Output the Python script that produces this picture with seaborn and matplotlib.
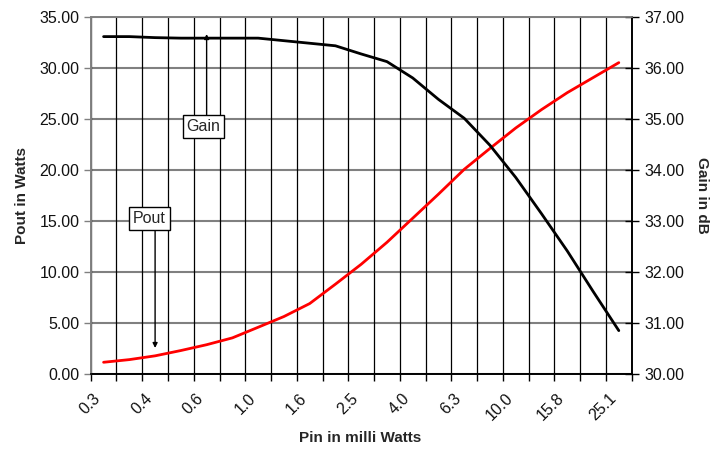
import numpy as np
import pandas as pd
import matplotlib
matplotlib.use("Agg")
import matplotlib.pyplot as plt
import seaborn as sns

# Data
pin_mw = [0.251, 0.316, 0.398, 0.501, 0.631, 0.794, 1.0, 1.259, 1.585, 1.995, 2.512,
          3.162, 3.981, 5.012, 6.310, 7.943, 10.0, 12.59, 15.85, 19.95, 25.12]
pout_w = [1.15, 1.41, 1.78, 2.30, 2.87, 3.54, 4.58, 5.63, 6.90, 8.80, 10.75,
          12.90, 15.26, 17.62, 20.05, 22.10, 24.10, 25.90, 27.56, 29.03, 30.50]
gain_db = [36.61, 36.61, 36.59, 36.58, 36.58, 36.58, 36.58, 36.53, 36.48, 36.43, 36.27,
           36.12, 35.80, 35.38, 35.01, 34.48, 33.85, 33.14, 32.41, 31.62, 30.85]
tick_labels = [f"{v:.1f}" for v in pin_mw]

df = pd.DataFrame({"idx": np.arange(len(pin_mw)), "pout": pout_w, "gain": gain_db})

sns.set_theme(style="white")
plt.rcParams["font.family"] = ["Liberation Sans", "DejaVu Sans"]

fig = plt.figure(figsize=(7.25, 4.55), dpi=100)
ax = fig.add_axes([0.1251, 0.178, 0.8713 - 0.1251, 0.9633 - 0.178])
ax2 = ax.twinx()

n = len(pin_mw)
ax.set_xlim(-0.5, n - 0.5)
ax.set_ylim(0, 35)
ax2.set_ylim(30, 37)

# gridlines
for yv in np.arange(0, 36, 5):
    ax.axhline(yv, color="#808080", lw=1.5, zorder=1)
for xv in np.arange(-0.5, n, 1.0):
    ax.axvline(xv, color="black", lw=0.9, zorder=1)

sns.lineplot(data=df, x="idx", y="pout", ax=ax, color="#FF0000", lw=2, zorder=3)
sns.lineplot(data=df, x="idx", y="gain", ax=ax2, color="black", lw=2, zorder=3)

TS = 11.5

# ticks
ax.set_xticks(np.arange(-0.5, n, 1.0))
ax.set_xticklabels([])
ax.set_xticks(np.arange(0, n, 2), minor=True)
ax.set_xticklabels(tick_labels[::2], minor=True, rotation=45, ha="right", va="top",
                   rotation_mode="default")
ax.tick_params(axis="x", which="major", direction="out", length=5, width=1, color="black", bottom=True)
ax.tick_params(axis="x", which="minor", length=0, pad=12, labelsize=TS, labelcolor="#111111")

ax.set_yticks(np.arange(0, 36, 5))
ax.set_yticklabels([f"{v:.2f}" for v in np.arange(0, 36, 5)])
ax.tick_params(axis="y", direction="out", length=5, width=1, color="#808080", left=True,
               labelsize=TS, labelcolor="#111111", pad=3)

ax2.set_yticks(np.arange(30, 38, 1))
ax2.set_yticklabels([f"{v:.2f}" for v in np.arange(30, 38, 1)])
ax2.tick_params(axis="y", direction="inout", length=10, width=1, color="black", right=True,
                labelsize=TS, labelcolor="#111111", pad=4)

ax.set_xlabel("Pin in milli Watts", fontsize=11, fontweight="bold")
ax.set_ylabel("Pout in Watts", fontsize=11, fontweight="bold")
ax2.set_ylabel("Gain in dB", fontsize=11, fontweight="bold", rotation=270)
ax.xaxis.label.set_va("center")
ax.yaxis.label.set_va("center")
ax2.yaxis.label.set_va("center")
ax.xaxis.set_label_coords(0.498, -0.179)
ax.yaxis.set_label_coords(-0.127, 0.5)
ax2.yaxis.set_label_coords(1.130, 0.5)

for a in (ax, ax2):
    a.spines["left"].set_color("#808080")
    a.spines["top"].set_color("#808080")
    a.spines["bottom"].set_color("black")
    a.spines["right"].set_color("black")
    for s in a.spines.values():
        s.set_linewidth(1.2)
ax.set_facecolor("white")

# annotations
ax.annotate("", xy=(4.0, 33.3), xytext=(4.0, 25.3),
            arrowprops=dict(arrowstyle="-|>", color="black", lw=1, mutation_scale=7,
                            shrinkA=0, shrinkB=0), zorder=5)
ax.text(3.88, 24.2, "Gain", ha="center", va="center", fontsize=TS, zorder=6,
        bbox=dict(boxstyle="square,pad=0.25", fc="white", ec="black", lw=1))

ax.annotate("", xy=(2.0, 2.55), xytext=(2.0, 14.1),
            arrowprops=dict(arrowstyle="-|>", color="black", lw=1, mutation_scale=7,
                            shrinkA=0, shrinkB=0), zorder=5)
ax.text(1.77, 15.2, "Pout", ha="center", va="center", fontsize=TS, zorder=6,
        bbox=dict(boxstyle="square,pad=0.25", fc="white", ec="black", lw=1))

fig.savefig("out.png", dpi=100, facecolor="white")
